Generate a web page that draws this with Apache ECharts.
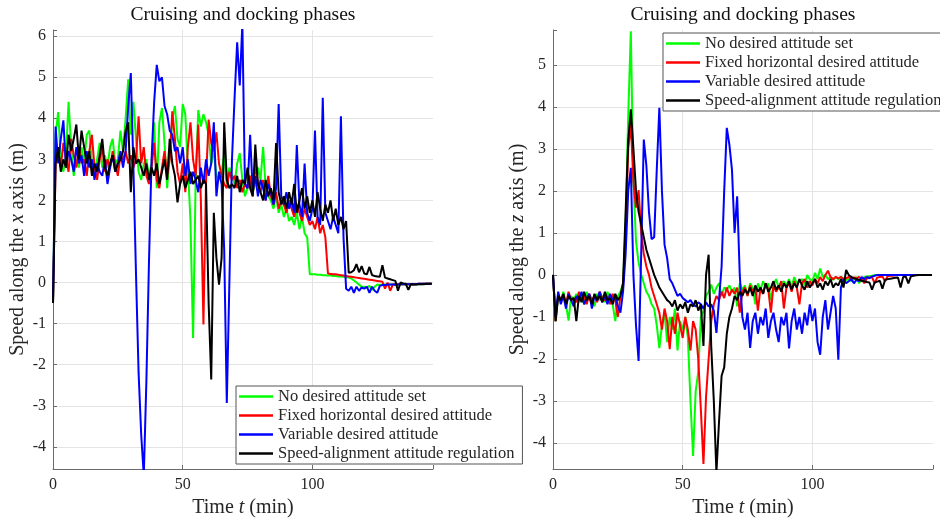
<!DOCTYPE html>
<html>
<head>
<meta charset="utf-8">
<script src="https://cdn.jsdelivr.net/npm/echarts@6/dist/echarts.min.js"></script>
<style>
  html, body { margin: 0; padding: 0; background: #fff; }
  #chart { width: 940px; height: 520px; }
</style>
</head>
<body>
<div id="chart"></div>
<script>
// Sampling instants (minutes), shared by every trace
const timeMin = Array.from({ length: 147 }, (_, i) => i);

const seriesNames = [
  'No desired attitude set',
  'Fixed horizontal desired attitude',
  'Variable desired attitude',
  'Speed-alignment attitude regulation'
];
const xTicks = [0, 50, 100];

// Speed along the x axis (m), one value per minute
const xNoAttitude = [
  -0.5, 3.6, 4.15, 3.0, 2.7, 3.1, 4.4, 3.3, 2.6, 3.0,
  2.8, 3.3, 2.9, 3.6, 3.7, 2.9, 2.7, 3.0, 3.4, 2.8,
  3.1, 2.8, 3.3, 3.5, 2.9, 3.0, 3.7, 3.2, 4.0, 4.95,
  3.6, 4.4, 3.5, 2.7, 2.5, 2.9, 3.0, 2.6, 2.9, 3.9,
  2.3, 3.9, 4.25, 3.4, 2.3, 3.1, 4.0, 4.3, 3.5, 3.3,
  4.35, 4.1, 2.8, 1.5, -1.35, 2.5, 4.2, 3.8, 4.1, 3.9,
  3.6, 2.9, 3.2, 2.6, 2.5, 2.7, 3.1, 2.4, 2.8, 2.6,
  2.4, 2.9, 3.15, 2.5, 2.1, 2.3, 2.6, 2.2, 2.4, 2.8,
  2.5, 3.3, 2.3, 2.1, 2.0, 1.8, 2.1, 1.7, 1.9, 1.6,
  1.8, 1.5, 1.6, 1.4, 1.7, 1.3, 1.6, 1.2, 1.1, 0.2,
  0.2, 0.2, 0.19, 0.19, 0.18, 0.18, 0.17, 0.17, 0.16, 0.16,
  0.15, 0.15, 0.14, 0.13, 0.12, 0.1, 0.05, 0.0, -0.05, -0.1,
  -0.1, -0.12, -0.08, -0.18, -0.1, -0.05, -0.06, -0.05, -0.05, -0.05,
  -0.05, -0.05, -0.05, -0.05, -0.05, -0.04, -0.04, -0.04, -0.04, -0.04,
  -0.04, -0.04, -0.04, -0.03, -0.03, -0.03, -0.03
];
const xFixedHorizontal = [
  -0.5, 2.9, 3.2, 2.8, 3.4, 3.0, 2.7, 3.5, 3.1, 2.8,
  3.3, 2.9, 3.0, 2.6, 3.2, 3.6, 2.8, 2.5, 3.0, 3.3,
  2.7, 3.0, 2.8, 3.2, 2.9, 2.6, 3.1, 3.0, 3.2, 2.9,
  3.1, 2.8, 3.0, 4.05, 2.9, 3.3, 2.6, 2.4, 2.8, 3.4,
  2.5, 2.3, 2.8, 3.2, 2.6, 3.0, 4.17, 3.5, 2.7, 2.4,
  2.9, 2.2, 3.3, 3.9, 3.0, 2.6, 3.85, 2.0, -1.02, 2.5,
  3.97, 3.4, 3.2, 3.66, 2.9, 2.6, 2.4, 2.3, 2.7, 2.5,
  2.6, 2.3, 2.5, 2.2, 2.4, 2.3, 2.6, 2.1, 2.9, 2.4,
  2.2, 2.5, 2.0, 2.6, 2.1, 1.9, 2.2, 1.8, 2.0, 1.9,
  1.7, 2.0, 1.8, 1.6, 1.9, 1.7, 1.5, 1.8, 1.6, 1.4,
  1.5, 1.3, 1.6, 1.2, 1.4, 1.1, 0.22, 0.21, 0.2, 0.2,
  0.19, 0.18, 0.17, 0.16, 0.15, 0.14, 0.13, 0.12, 0.11, 0.1,
  0.09, 0.08, 0.07, 0.06, 0.05, 0.04, 0.03, 0.02, -0.15, 0.0,
  -0.2, -0.05, -0.05, -0.04, -0.04, -0.04, -0.04, -0.04, -0.04, -0.04,
  -0.04, -0.03, -0.03, -0.03, -0.03, -0.03, -0.03
];
const xVariable = [
  -0.5, 3.8, 2.9, 3.5, 3.95, 2.8, 3.2, 3.0, 2.7, 3.3,
  2.9, 3.1, 2.6, 3.2, 2.8, 3.0, 2.5, 2.9, 2.7, 2.6,
  3.0, 2.4, 2.8, 3.1, 2.7, 2.9, 3.2, 2.8, 3.2, 4.3,
  5.1, 2.8, 0.2, -2.2, -3.7, -4.7, -2.4, 0.5, 3.0, 4.4,
  5.3, 4.9, 5.0, 4.3, 4.1, 3.7, 3.6, 3.2, 3.3, 2.9,
  3.3, 2.6, 3.0, 2.4, 2.7, 2.5, 2.2, 2.8, 2.4, 3.0,
  2.6, 2.9, 3.9, 2.1, 2.7, 2.4, 0.8, -2.93, 0.0, 3.0,
  4.5, 5.85, 4.8, 6.3, 2.4, 2.3, 3.6, 2.2, 2.6, 2.1,
  2.5, 2.3, 2.0, 2.4, 2.2, 1.9, 2.3, 4.35, 2.1, 1.9,
  2.2, 1.8, 2.0, 1.7, 3.35, 1.9, 1.6, 2.9, 1.7, 1.5,
  1.8, 3.7, 1.6, 1.4, 4.5, 1.7, 1.5, 1.3, 1.6, 1.4,
  1.2, 4.05, 1.1, -0.15, -0.2, -0.1, -0.25, -0.1, -0.2, -0.12,
  -0.15, -0.1, -0.25, -0.1, -0.2, -0.25, -0.08, -0.06, -0.06, -0.05,
  -0.05, -0.05, -0.05, -0.05, -0.04, -0.04, -0.04, -0.04, -0.04, -0.04,
  -0.04, -0.03, -0.03, -0.03, -0.03, -0.03, -0.03
];
const xSpeedAligned = [
  -0.5, 2.9, 3.3, 2.7, 3.0, 2.8, 3.6, 3.2, 3.5, 3.85,
  3.0, 3.7, 3.3, 2.9, 3.2, 2.6, 2.9, 2.7, 3.1, 3.5,
  2.8, 2.6, 2.9, 3.1, 2.7, 2.9, 3.0, 3.2, 3.7, 3.9,
  2.2, 3.3, 2.9, 3.0, 2.8, 2.6, 2.9, 2.5, 2.8, 2.6,
  2.9, 2.4, 2.7, 3.0, 2.5, 3.5, 2.9, 2.6, 1.95, 2.4,
  2.6, 2.3, 2.5, 2.7, 2.4, 2.5, 2.6, 2.3, 2.5, 2.4,
  -0.5, -2.36, 1.7, 0.6, -0.05, 0.6, 3.9, 2.5, 2.3, 2.4,
  2.3, 2.6, 2.2, 2.5, 2.4, 2.8, 2.3, 2.1, 3.36, 2.4,
  2.2, 2.0, 2.5, 2.1, 2.3, 2.0, 3.4, 2.2, 1.9, 2.1,
  1.8, 2.2, 1.9, 2.4, 1.7, 2.0, 2.3, 1.8, 2.1, 1.7,
  2.0, 1.6, 2.2, 1.8, 1.5, 1.9, 1.7, 2.0, 1.5, 1.8,
  1.4, 1.6, 1.3, 1.5, 0.24, 0.25, 0.3, 0.45, 0.25, 0.4,
  0.22, 0.2, 0.38, 0.18, 0.16, 0.15, 0.14, 0.42, 0.12, 0.1,
  0.08, 0.06, 0.04, -0.2, 0.0, -0.02, -0.03, -0.18, -0.04, -0.05,
  -0.05, -0.04, -0.04, -0.04, -0.03, -0.03, -0.03
];

// Speed along the z axis (m), one value per minute
const zNoAttitude = [
  0.0, -1.1, -0.5, -0.6, -0.4, -0.7, -1.09, -0.5, -0.6, -0.45,
  -0.65, -0.5, -0.7, -0.4, -0.6, -0.55, -0.75, -0.45, -0.6, -0.5,
  -0.65, -0.4, -0.6, -0.7, -1.1, -0.5, -0.4, -0.2, 1.2, 3.8,
  5.8, 2.2, 0.8, 0.3, 0.0, -0.2, -0.4, -0.5, -0.7, -0.8,
  -1.2, -1.74, -1.2, -0.9, -1.6, -1.0, -1.3, -0.8, -1.8, -1.1,
  -1.3, -1.0, -1.5, -3.0, -4.31, -2.77, -2.3, -1.0, -0.86, -0.5,
  -0.4, -0.23, -0.45, -0.3, -0.2, -0.5, -0.3, -0.35, -0.25, -0.4,
  -0.3, -0.75, -0.2, -0.35, -0.25, -0.5, -0.2, -0.3, -0.7, -0.2,
  -0.35, -0.15, -0.3, -0.2, -0.6, -0.25, -0.1, -0.3, -0.2, -0.15,
  -0.25, -0.1, -0.3, -0.05, -0.2, -0.15, -0.1, -0.25, 0.0, -0.1,
  -0.15, 0.05, -0.1, 0.15, -0.05, 0.0, -0.1, -0.05, -0.12, -0.05,
  -0.1, -0.05, -0.08, -0.12, -0.1, -0.15, -0.1, -0.05, -0.2, -0.1,
  -0.05, -0.04, -0.03, -0.02, -0.01, 0.0, 0.0, 0.0, 0.0, 0.0,
  0.0, 0.0, 0.0, 0.0, 0.0, 0.0, 0.0, 0.0, 0.0, 0.0,
  0.0, 0.0, 0.0, 0.0, 0.0, 0.0, 0.0
];
const zFixedHorizontal = [
  0.0, -1.1, -0.45, -0.6, -0.5, -0.7, -0.4, -0.6, -0.55, -0.65,
  -0.4, -0.6, -0.5, -0.7, -0.45, -0.6, -0.5, -0.65, -0.4, -0.55,
  -0.6, -0.5, -0.7, -0.45, -0.6, -1.0, -0.5, -0.3, 1.0, 3.0,
  3.6, 2.2, 1.6, 2.02, 1.0, 0.5, 0.2, 0.0, -0.3, -0.5,
  -0.7, -0.9, -1.3, -0.8, -1.1, -1.77, -1.0, -1.4, -0.9, -1.2,
  -1.5, -1.0, -1.3, -1.8, -1.1, -1.3, -2.0, -3.2, -4.5, -2.9,
  -2.0, -1.1, -0.7, -0.5, -0.6, -0.4, -0.55, -0.3, -0.5, -0.35,
  -0.45, -0.3, -0.9, -0.4, -0.3, -0.5, -0.25, -0.4, -0.3, -0.85,
  -0.3, -0.45, -0.2, -0.35, -0.9, -0.25, -0.4, -0.3, -0.15, -0.8,
  -0.3, -0.2, -0.4, -0.15, -0.3, -0.7, -0.2, -0.1, -0.3, -0.15,
  -0.25, -0.1, -0.2, -0.05, -0.15, 0.0, 0.1, -0.05, -0.1, -0.05,
  -0.08, -0.05, -0.1, -0.08, -0.05, -0.1, -0.06, -0.08, -0.05, -0.1,
  -0.2, -0.08, -0.06, -0.05, -0.2, -0.06, -0.05, -0.04, -0.15, -0.03,
  -0.02, -0.02, -0.01, 0.0, 0.0, 0.0, 0.0, 0.0, 0.0, 0.0,
  0.0, 0.0, 0.0, 0.0, 0.0, 0.0, 0.0
];
const zVariable = [
  0.0, -1.0, -0.4, -0.7, -0.5, -0.8, -0.45, -0.6, -0.75, -0.5,
  -0.6, -0.4, -0.7, -0.55, -0.45, -0.8, -0.5, -0.6, -0.4, -0.65,
  -0.5, -0.7, -0.45, -0.6, -0.5, -0.75, -0.9, -0.4, 0.5, 2.0,
  2.55, 0.0, -1.2, -2.05, 0.5, 3.22, 2.6, 1.5, 0.85, 0.9,
  2.5, 3.98, 2.0, 0.72, 0.4, -0.1, -0.2, -0.35, -0.5, -0.45,
  -0.55, -0.6, -0.65, -0.6, -0.7, -0.75, -0.65, -0.7, -0.8, -0.65,
  -0.75, -0.7, -0.85, -1.38, -0.6, 0.2, 2.0, 3.5, 3.1, 2.5,
  1.0, 1.87, 0.0, -1.0, -1.3, -0.9, -1.74, -1.1, -0.9, -1.4,
  -1.0, -1.2, -0.8, -1.5, -1.1, -0.9, -1.3, -1.6, -1.0, -1.2,
  -0.9, -1.75, -1.1, -0.8, -1.3, -1.0, -1.4, -0.9, -1.2, -0.7,
  -1.1, -0.8, -1.6, -1.9, -1.0, -0.6, -1.3, -0.9, -0.5, -0.8,
  -2.02, -0.3, -0.1, -0.2, -0.15, -0.1, -0.2, -0.12, -0.15, -0.05,
  -0.1, -0.05, -0.08, -0.04, -0.02, 0.0, 0.0, 0.0, 0.0, 0.0,
  0.0, 0.0, 0.0, 0.0, 0.0, 0.0, 0.0, 0.0, 0.0, 0.0,
  0.0, 0.0, 0.0, 0.0, 0.0, 0.0, 0.0
];
const zSpeedAligned = [
  0.0, -1.1, -0.5, -0.6, -0.45, -0.7, -0.5, -0.6, -0.55, -1.1,
  -0.5, -0.65, -0.4, -0.6, -0.5, -0.7, -0.45, -0.6, -0.5, -0.65,
  -0.4, -0.6, -0.55, -0.7, -0.45, -0.6, -0.5, -0.2, 1.5, 3.2,
  3.94, 3.0, 2.0, 1.5, 1.2, 0.9, 0.6, 0.4, 0.2, 0.0,
  -0.15, -0.3, -0.4, -0.5, -0.6, -0.65, -0.75, -0.6, -0.85, -0.7,
  -0.8, -0.65, -0.9, -0.7, -0.75, -0.6, -0.85, -0.7, -1.69, 0.0,
  0.48, -1.7, -3.0, -4.7, -3.5, -2.4, -2.2, -1.4, -1.0, -0.8,
  -0.5, -0.6, -0.4, -0.5, -0.35, -0.45, -0.3, -0.5, -0.25, -0.4,
  -0.3, -0.45, -0.2, -0.4, -0.3, -0.15, -0.35, -0.25, -0.4, -0.2,
  -0.3, -0.15, -0.35, -0.2, -0.3, -0.1, -0.25, -0.35, -0.15, -0.3,
  -0.2, -0.1, -0.3, -0.2, -0.35, -0.15, -0.25, -0.1, -0.3, -0.2,
  -0.25, -0.1, -0.3, 0.12, 0.0, -0.05, -0.08, -0.1, -0.12, -0.14,
  -0.15, -0.17, -0.18, -0.35, -0.18, -0.16, -0.14, -0.33, -0.12, -0.1,
  -0.09, -0.08, -0.07, -0.06, -0.3, -0.05, -0.04, -0.2, -0.03, -0.02,
  -0.01, 0.0, 0.0, 0.0, 0.0, 0.0, 0.0
];

const lineColors = ['#00ff00', '#ff0000', '#0000ff', '#000000'];
const SERIF = '"Liberation Serif", "DejaVu Serif", serif';
const TEXT = '#262626';
const TITLE = 'Cruising and docking phases';

const chart = echarts.init(document.getElementById('chart'), null, { renderer: 'canvas' });

function pairs(values) {
  return timeMin.map((t, i) => [t, values[i]]);
}

function trace(name, values, color, axis) {
  return {
    type: 'line',
    name: name,
    xAxisIndex: axis,
    yAxisIndex: axis,
    data: pairs(values),
    showSymbol: false,
    symbol: 'none',
    lineStyle: { color: color, width: 2 },
    itemStyle: { color: color },
    emphasis: { disabled: true },
    animation: false
  };
}

function xAxisFor(idx) {
  return {
    gridIndex: idx,
    type: 'value',
    min: 0,
    max: 146.5,
    interval: 50,
    name: 'Time {i|t} (min)',
    nameLocation: 'middle',
    nameGap: 27,
    nameTextStyle: {
      fontFamily: SERIF, fontSize: 20, color: TEXT,
      rich: { i: { fontFamily: SERIF, fontSize: 20, fontStyle: 'italic', color: TEXT } }
    },
    axisLine: { show: true, onZero: false, lineStyle: { color: '#6b6b6b', width: 1 } },
    axisTick: { show: true, inside: true, length: 4, lineStyle: { color: '#6b6b6b' } },
    axisLabel: {
      fontFamily: SERIF, fontSize: 16, color: TEXT, margin: 8,
      formatter: v => (xTicks.indexOf(v) >= 0 ? String(v) : '')
    },
    splitLine: { show: true, showMaxLine: false, lineStyle: { color: '#e4e4e4', width: 1 } }
  };
}

function yAxisFor(idx, lo, hi, label) {
  return {
    gridIndex: idx,
    type: 'value',
    min: lo,
    max: hi,
    minInterval: 1,
    maxInterval: 1,
    name: '{a|Speed along the }{i|' + label + '}{a| axis (m)}',
    nameLocation: 'middle',
    nameGap: 25,
    nameRotate: 90,
    nameTextStyle: {
      rich: {
        a: { fontFamily: SERIF, fontSize: 20, color: TEXT },
        i: { fontFamily: SERIF, fontSize: 20, fontStyle: 'italic', color: TEXT }
      }
    },
    axisLine: { show: true, onZero: false, lineStyle: { color: '#6b6b6b', width: 1 } },
    axisTick: { show: true, inside: true, length: 4, lineStyle: { color: '#6b6b6b' } },
    axisLabel: {
      fontFamily: SERIF, fontSize: 16, color: TEXT, margin: 7,
      formatter: v => (Math.abs(v - Math.round(v)) < 1e-9 ? String(v) : '')
    },
    splitLine: { show: true, showMinLine: false, showMaxLine: false, lineStyle: { color: '#e4e4e4', width: 1 } }
  };
}

function legendAt(left, top) {
  return {
    orient: 'vertical',
    left: left,
    top: top,
    data: seriesNames,
    icon: 'rect',
    itemWidth: 34,
    itemHeight: 2.5,
    itemGap: 2,
    selectedMode: false,
    backgroundColor: '#ffffff',
    borderColor: '#555555',
    borderWidth: 1,
    borderRadius: 0,
    padding: [2, 8, 2, 3],
    textStyle: { fontFamily: SERIF, fontSize: 16.5, color: TEXT, lineHeight: 17 }
  };
}

function titleAt(cx) {
  return {
    type: 'text',
    x: cx,
    y: 15,
    style: {
      text: TITLE,
      font: '19.5px ' + SERIF,
      fill: '#111111',
      align: 'center',
      verticalAlign: 'middle'
    }
  };
}

const option = {
  backgroundColor: '#ffffff',
  animation: false,
  grid: [
    { left: 53, top: 30, width: 380, height: 439, containLabel: false, outerBoundsMode: 'none' },
    { left: 553, top: 30, width: 380, height: 439, containLabel: false, outerBoundsMode: 'none' }
  ],
  xAxis: [xAxisFor(0), xAxisFor(1)],
  yAxis: [yAxisFor(0, -4.54, 6.15, 'x'), yAxisFor(1, -4.62, 5.83, 'z')],
  legend: [legendAt(236, 386), legendAt(663, 33)],
  graphic: [titleAt(243), titleAt(743)],
  series: [
    trace(seriesNames[0], xNoAttitude, lineColors[0], 0),
    trace(seriesNames[1], xFixedHorizontal, lineColors[1], 0),
    trace(seriesNames[2], xVariable, lineColors[2], 0),
    trace(seriesNames[3], xSpeedAligned, lineColors[3], 0),
    trace(seriesNames[0], zNoAttitude, lineColors[0], 1),
    trace(seriesNames[1], zFixedHorizontal, lineColors[1], 1),
    trace(seriesNames[2], zVariable, lineColors[2], 1),
    trace(seriesNames[3], zSpeedAligned, lineColors[3], 1)
  ]
};

chart.setOption(option);
</script>
</body>
</html>
